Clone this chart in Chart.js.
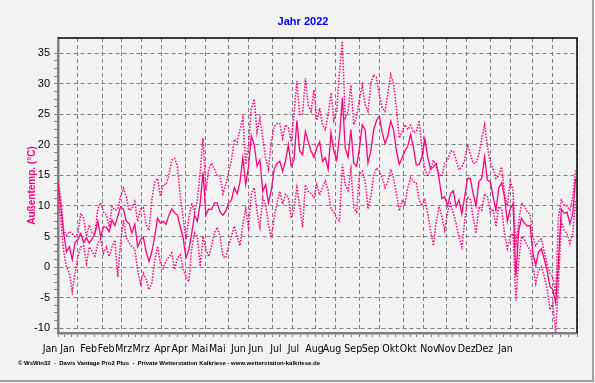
<!DOCTYPE html>
<html>
<head>
<meta charset="utf-8">
<script src="https://cdn.jsdelivr.net/npm/chart.js@4.4.1/dist/chart.umd.min.js"></script>
<style>
  html, body { margin: 0; padding: 0; background: #f2f2f2; }
  #wrap { width: 595px; height: 383px; }
</style>
</head>
<body>
<div id="wrap"><canvas id="chart" width="595" height="383"></canvas></div>
<script>
const titleText = 'Jahr 2022';
const yTitleText = 'Außentemp. (°C)';
const footerText = '© WsWin32  -  Davis Vantage Pro2 Plus  -  Private Wetterstation Kalkriese - www.wetterstation-kalkriese.de';

// x labels: 1st and 15th of each month (day of year)
const monthLabels = ['Jan', 'Jan', 'Feb', 'Feb', 'Mrz', 'Mrz', 'Apr', 'Apr', 'Mai', 'Mai', 'Jun', 'Jun',
  'Jul', 'Jul', 'Aug', 'Aug', 'Sep', 'Sep', 'Okt', 'Okt', 'Nov', 'Nov', 'Dez', 'Dez', 'Jan'];
const labelDays = [0, 14, 31, 45, 59, 73, 90, 104, 120, 134, 151, 165,
  181, 195, 212, 226, 243, 257, 273, 287, 304, 318, 334, 348, 365];
const yTickLabels = [-10, -5, 0, 5, 10, 15, 20, 25, 30, 35];

// one reading every second day from 1 Jan
const dayStep = 2;

const tempMean = [
  13.5, 9.9, 5.5, 2.5, 3.3, 1.2, 4.0, 4.5, 5.5, 4.0,
  4.8, 3.9, 4.6, 5.5, 7.5, 4.9, 6.6, 6.5, 5.8, 7.7,
  6.8, 8.3, 9.9, 9.5, 7.5, 7.1, 5.6, 7.0, 3.3, 4.4,
  4.9, 2.5, 0.9, 2.5, 5.0, 8.0, 7.2, 7.5, 7.0, 8.5,
  9.5, 8.9, 8.5, 6.6, 4.8, 1.5, 2.8, 5.5, 8.5, 7.5,
  10.5, 15.5, 8.5, 9.5, 9.4, 10.5, 10.5, 9.0, 8.5, 9.2,
  10.5, 11.0, 13.0, 12.0, 14.0, 17.9, 13.5, 16.5, 21.5, 20.0,
  16.5, 17.5, 12.4, 13.5, 10.5, 12.5, 16.0, 17.0, 17.3, 15.7,
  17.3, 20.0, 16.5, 17.5, 24.0, 19.0, 18.4, 22.2, 20.5, 19.0,
  18.0, 19.5, 20.5, 17.3, 17.9, 16.0, 22.0, 19.0, 17.5, 21.5,
  27.7, 19.5, 18.0, 22.5, 17.0, 16.5, 19.5, 23.3, 22.5, 17.0,
  19.0, 22.5, 24.0, 24.7, 22.0, 20.2, 21.5, 23.9, 22.5, 19.0,
  16.8, 17.9, 19.0, 19.8, 21.7, 19.5, 16.7, 16.8, 18.1, 21.0,
  18.0, 16.0, 16.4, 17.0, 14.5, 11.2, 11.5, 10.0, 12.0, 12.5,
  9.9, 11.0, 8.7, 11.5, 14.5, 14.5, 12.0, 10.0, 14.0, 14.5,
  18.0, 14.2, 14.0, 11.5, 9.3, 13.0, 13.8, 11.5, 7.5, 9.5,
  10.4, -1.6, 6.0, 8.0, 7.2, 6.7, 6.8, 2.2, 0.3, 2.5,
  3.0, 1.2, -0.6, -3.2, -3.7, -5.9, 1.1, 9.5, 8.8, 9.0,
  7.1, 8.7, 14.5
];

const tempMax = [
  14.0, 11.0, 6.0, 5.2, 5.8, 5.5, 5.0, 5.5, 8.8, 8.0,
  5.0, 6.9, 5.5, 5.5, 9.5, 10.5, 9.0, 8.5, 6.6, 9.9,
  9.3, 9.5, 11.5, 12.9, 11.5, 9.3, 9.5, 10.7, 7.5, 9.5,
  9.7, 7.0, 6.0, 11.0, 14.0, 14.5, 11.6, 13.5, 13.5, 15.0,
  17.5, 17.8, 16.5, 11.6, 8.0, 4.5, 8.0, 10.5, 9.0, 11.0,
  15.5, 21.1, 12.5, 16.0, 17.0, 16.0, 15.0, 14.9, 12.0, 13.5,
  15.5, 17.6, 20.9, 20.5, 22.5, 24.4, 16.8, 20.0, 26.0, 27.5,
  22.0, 24.4, 21.1, 17.9, 16.0, 20.5, 23.0, 23.5, 23.5, 21.1,
  23.3, 22.8, 20.5, 25.0, 30.4, 25.0, 25.0, 30.9, 26.5, 25.5,
  29.0, 24.0, 26.0, 23.3, 22.5, 25.0, 28.5, 24.0, 25.5, 32.0,
  37.0, 24.4, 25.5, 29.8, 23.3, 24.5, 27.5, 29.8, 26.6, 25.5,
  30.0, 31.5, 31.0, 28.2, 26.0, 25.5, 28.5, 31.5, 30.0, 26.0,
  21.1, 22.2, 23.3, 22.5, 23.2, 22.0, 22.2, 24.0, 19.2, 16.0,
  14.8, 16.0, 17.5, 16.5, 15.3, 14.8, 17.0, 17.5, 19.0, 19.0,
  17.5, 15.9, 16.4, 17.5, 20.0, 18.5, 17.0, 17.0, 18.5, 21.0,
  23.3, 19.7, 17.2, 16.0, 14.5, 15.0, 16.4, 12.0, 10.0, 14.0,
  12.6, 3.3, 7.5, 10.5, 10.0, 9.0, 8.7, 4.9, 3.5, 4.2,
  4.6, 2.5, 0.3, -1.0, -1.6, -4.5, 8.2, 11.0, 10.2, 10.0,
  9.3, 11.5, 15.8
];

const tempMin = [
  11.0, 7.7, 2.5, 0.0, -1.0, -4.0, -1.0, 1.7, 3.3, 3.5,
  0.6, 3.3, 2.5, 1.8, 3.9, 4.5, 2.2, 3.3, 1.7, 3.3,
  4.4, -1.6, 4.0, 7.7, 4.8, 4.0, 3.3, 3.0, -0.5, -2.7,
  -1.0, -2.0, -3.7, -2.6, 1.0, 3.4, 0.6, -0.2, 1.0, 1.7,
  2.3, -0.4, 1.5, 2.0, -0.4, -1.5, -2.4, 3.0, 5.6, 5.0,
  0.1, 5.0, 3.0, 1.7, 3.4, 5.6, 6.5, 5.0, 1.7, 1.5,
  3.5, 5.0, 6.7, 5.0, 3.5, 7.0, 9.5, 6.5, 12.0, 13.0,
  9.0, 6.5, 11.4, 10.3, 7.0, 4.8, 8.0, 10.5, 12.4, 10.3,
  11.9, 11.4, 8.0, 9.5, 13.0, 10.0, 6.5, 13.5, 12.4, 12.0,
  11.4, 13.5, 11.8, 13.0, 14.1, 12.5, 9.5, 9.0, 8.0, 7.6,
  16.8, 13.5, 12.5, 16.0, 9.7, 9.0, 15.2, 15.7, 14.0, 9.5,
  11.5, 15.0, 16.2, 15.7, 14.6, 13.0, 14.0, 16.0, 14.5, 12.0,
  9.2, 10.8, 10.3, 13.0, 14.6, 14.0, 13.7, 11.0, 10.0, 11.0,
  8.8, 6.0, 3.5, 7.5, 9.9, 8.2, 6.0, 9.0, 10.4, 8.8,
  7.1, 4.9, 3.3, 7.5, 11.5, 11.0, 8.0, 5.5, 9.9, 9.3,
  12.0, 11.5, 9.0, 9.5, 6.6, 9.9, 9.5, 5.5, 3.0, 4.9,
  5.5, -5.5, 1.0, 5.0, 4.5, 3.5, 2.8, 0.0, -2.7, -0.5,
  0.0, -1.5, -3.5, -7.0, -5.9, -10.7, -2.7, 7.5, 6.0, 5.5,
  3.9, 5.5, 10.9
];

const pink = '#ff0080';
const gridGray = '#808080';
const baseFont = "'Liberation Sans', Arial, sans-serif";
const narrowFont = "'DejaVu Sans Condensed', 'Liberation Sans Narrow', 'Liberation Sans', sans-serif";

const toPoints = (values) => values.map((v, i) => ({ x: i * dayStep, y: v }));

// minor ticks: thirds between x grid lines, quarters between y grid lines
const xTicks = [];
labelDays.forEach((d, i) => {
  xTicks.push({ value: d, major: true });
  const next = labelDays[i + 1];
  if (next !== undefined) {
    xTicks.push({ value: d + (next - d) / 3 });
    xTicks.push({ value: d + (next - d) * 2 / 3 });
  }
});
const yTicks = [];
yTickLabels.forEach((v, i) => {
  yTicks.push({ value: v, major: true });
  if (i < yTickLabels.length - 1) {
    [1.25, 2.5, 3.75].forEach((s) => yTicks.push({ value: v + s }));
  }
});

const isMajor = (ctx) => ctx.tick && ctx.tick.major;

const framePlugin = {
  id: 'frame',
  beforeDraw(chart) {
    const { ctx, width, height } = chart;
    ctx.save();
    ctx.fillStyle = '#f2f2f2';
    ctx.fillRect(0, 0, width, height);
    ctx.strokeStyle = '#a0a0a0';
    ctx.lineWidth = 2;
    ctx.beginPath();
    ctx.moveTo(width - 2, 0);
    ctx.lineTo(width - 2, height - 2);
    ctx.lineTo(0, height - 2);
    ctx.stroke();
    ctx.restore();
  },
  beforeDatasetsDraw(chart) {
    const { ctx, chartArea: a } = chart;
    ctx.save();
    ctx.strokeStyle = '#000';
    ctx.lineWidth = 1.5;
    ctx.beginPath();
    ctx.moveTo(a.left, a.top);
    ctx.lineTo(a.right, a.top);
    ctx.lineTo(a.right, a.bottom);
    ctx.stroke();
    ctx.restore();
  },
  afterDraw(chart) {
    const { ctx } = chart;
    ctx.save();
    ctx.fillStyle = '#0000ff';
    ctx.font = `bold 11px ${baseFont}`;
    ctx.textAlign = 'center';
    ctx.textBaseline = 'middle';
    ctx.fillText(titleText, 303, 22);
    ctx.fillStyle = '#000';
    ctx.font = `bold 6px ${baseFont}`;
    ctx.textAlign = 'left';
    ctx.fillText(footerText, 18, 363, 302);
    ctx.restore();
  }
};

new Chart(document.getElementById('chart'), {
  type: 'line',
  data: {
    datasets: [
      {
        label: 'Mittel',
        data: toPoints(tempMean),
        borderColor: pink,
        borderWidth: 1.3,
        pointRadius: 0,
        tension: 0,
        order: 0
      },
      {
        label: 'Max',
        data: toPoints(tempMax),
        borderColor: pink,
        borderWidth: 1.5,
        borderDash: [1.5, 1.5],
        pointRadius: 0,
        tension: 0,
        order: 1
      },
      {
        label: 'Min',
        data: toPoints(tempMin),
        borderColor: pink,
        borderWidth: 1.5,
        borderDash: [1.5, 1.5],
        pointRadius: 0,
        tension: 0,
        order: 2
      }
    ]
  },
  options: {
    responsive: false,
    animation: false,
    devicePixelRatio: 1,
    layout: { padding: { top: 38, right: 18, left: 0, bottom: 0 } },
    plugins: {
      legend: { display: false },
      tooltip: { enabled: false },
      title: { display: false }
    },
    scales: {
      x: {
        type: 'linear',
        position: 'bottom',
        min: 0,
        max: 365,
        afterBuildTicks: (scale) => { scale.ticks = xTicks.map((t) => ({ ...t })); },
        afterFit: (scale) => { scale.height = 6; },
        ticks: { display: false, autoSkip: false },
        grid: {
          color: (ctx) => (isMajor(ctx) ? gridGray : 'rgba(0,0,0,0)'),
          tickColor: gridGray,
          tickLength: 4,
          lineWidth: 1
        },
        border: { color: gridGray, width: 2.5, dash: [4, 3] }
      },
      xLabels: {
        type: 'linear',
        position: 'bottom',
        min: 0,
        max: 415.9,
        afterBuildTicks: (scale) => { scale.ticks = labelDays.map((d) => ({ value: d })); },
        afterFit: (scale) => { scale.height = 44; },
        grid: { display: false, drawTicks: false },
        border: { display: false },
        ticks: {
          autoSkip: false,
          maxRotation: 0,
          labelOffset: -8,
          padding: 4,
          color: '#000',
          font: { family: narrowFont, size: 10.5 },
          callback: (value, index) => monthLabels[index]
        }
      },
      y: {
        type: 'linear',
        min: -10.8,
        max: 37.5,
        afterBuildTicks: (scale) => { scale.ticks = yTicks.map((t) => ({ ...t })); },
        afterFit: (scale) => { scale.width = 58; },
        ticks: {
          autoSkip: false,
          padding: 4,
          color: '#000',
          font: { family: baseFont, size: 11 },
          callback: (value) => (yTickLabels.includes(value) ? String(value) : '')
        },
        grid: {
          color: (ctx) => (isMajor(ctx) ? gridGray : 'rgba(0,0,0,0)'),
          tickColor: gridGray,
          tickLength: 4,
          lineWidth: 1
        },
        border: { color: gridGray, width: 2.5, dash: [4, 3] },
        title: {
          display: true,
          text: yTitleText,
          color: pink,
          font: { family: baseFont, size: 10, weight: 'bold' },
          padding: { top: 26 }
        }
      }
    }
  },
  plugins: [framePlugin]
});
</script>
</body>
</html>
